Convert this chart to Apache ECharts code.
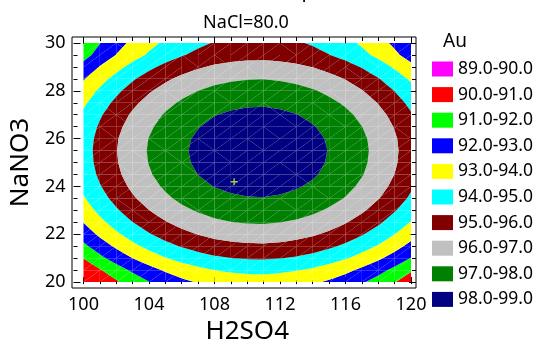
<!DOCTYPE html>
<html><head><meta charset="utf-8">
<script src="https://cdn.jsdelivr.net/npm/echarts@6/dist/echarts.min.js"></script>
<style>html,body{margin:0;padding:0;background:#fff}#c{width:539px;height:350px}</style>
</head><body><div id="c"></div>
<script>
// grid of the response surface (rows = NaNO3, columns = H2SO4)
const h2so4 = [100,101,102,103,104,105,106,107,108,109,110,111,112,113,114,115,116,117,118,119,120];
const nano3 = [20,20.5,21,21.5,22,22.5,23,23.5,24,24.5,25,25.5,26,26.5,27,27.5,28,28.5,29,29.5,30];
const au = [
[90.10,90.22,90.87,91.46,91.97,92.41,92.78,93.07,93.30,93.45,93.53,93.55,93.48,93.35,93.15,92.87,92.53,92.11,91.62,91.05,90.42],
[90.18,90.91,91.56,92.15,92.66,93.10,93.47,93.76,93.99,94.14,94.22,94.24,94.17,94.04,93.84,93.56,93.22,92.80,92.31,91.74,91.11],
[91.03,91.76,92.41,93.00,93.51,93.95,94.32,94.61,94.84,94.99,95.07,95.09,95.02,94.89,94.69,94.41,94.07,93.65,93.16,92.59,91.96],
[91.78,92.51,93.16,93.75,94.26,94.70,95.07,95.36,95.59,95.74,95.82,95.84,95.77,95.64,95.44,95.16,94.82,94.40,93.91,93.34,92.71],
[92.45,93.18,93.83,94.42,94.93,95.37,95.74,96.03,96.26,96.41,96.49,96.51,96.44,96.31,96.11,95.83,95.49,95.07,94.58,94.01,93.38],
[93.02,93.75,94.40,94.99,95.50,95.94,96.31,96.60,96.83,96.98,97.06,97.08,97.01,96.88,96.68,96.40,96.06,95.64,95.15,94.58,93.95],
[93.51,94.24,94.89,95.48,95.99,96.43,96.80,97.09,97.32,97.47,97.55,97.57,97.50,97.37,97.17,96.89,96.55,96.13,95.64,95.07,94.44],
[93.91,94.64,95.29,95.88,96.39,96.83,97.20,97.49,97.72,97.87,97.95,97.97,97.90,97.77,97.57,97.29,96.95,96.53,96.04,95.47,94.84],
[94.21,94.94,95.59,96.18,96.69,97.13,97.50,97.79,98.02,98.17,98.25,98.27,98.20,98.07,97.87,97.59,97.25,96.83,96.34,95.77,95.14],
[94.43,95.16,95.81,96.40,96.91,97.35,97.72,98.01,98.24,98.39,98.47,98.49,98.42,98.29,98.09,97.81,97.47,97.05,96.56,95.99,95.36],
[94.55,95.28,95.93,96.52,97.03,97.47,97.84,98.13,98.36,98.51,98.59,98.61,98.54,98.41,98.21,97.93,97.59,97.17,96.68,96.11,95.48],
[94.59,95.32,95.97,96.56,97.07,97.51,97.88,98.17,98.40,98.55,98.63,98.65,98.58,98.45,98.25,97.97,97.63,97.21,96.72,96.15,95.52],
[94.54,95.27,95.92,96.51,97.02,97.46,97.83,98.12,98.35,98.50,98.58,98.60,98.53,98.40,98.20,97.92,97.58,97.16,96.67,96.10,95.47],
[94.39,95.12,95.77,96.36,96.87,97.31,97.68,97.97,98.20,98.35,98.43,98.45,98.38,98.25,98.05,97.77,97.43,97.01,96.52,95.95,95.32],
[94.16,94.89,95.54,96.13,96.64,97.08,97.45,97.74,97.97,98.12,98.20,98.22,98.15,98.02,97.82,97.54,97.20,96.78,96.29,95.72,95.09],
[93.83,94.56,95.21,95.80,96.31,96.75,97.12,97.41,97.64,97.79,97.87,97.89,97.82,97.69,97.49,97.21,96.87,96.45,95.96,95.39,94.76],
[93.42,94.15,94.80,95.39,95.90,96.34,96.71,97.00,97.23,97.38,97.46,97.48,97.41,97.28,97.08,96.80,96.46,96.04,95.55,94.98,94.35],
[92.92,93.65,94.30,94.89,95.40,95.84,96.21,96.50,96.73,96.88,96.96,96.98,96.91,96.78,96.58,96.30,95.96,95.54,95.05,94.48,93.85],
[92.32,93.05,93.70,94.29,94.80,95.24,95.61,95.90,96.13,96.28,96.36,96.38,96.31,96.18,95.98,95.70,95.36,94.94,94.45,93.88,93.25],
[91.64,92.37,93.02,93.61,94.12,94.56,94.93,95.22,95.45,95.60,95.68,95.70,95.63,95.50,95.30,95.02,94.68,94.26,93.77,93.20,92.57],
[91.24,91.97,92.62,93.21,93.72,94.16,94.53,94.82,95.05,95.20,95.28,95.30,95.23,95.10,94.90,94.62,94.28,93.86,93.37,92.80,92.17]
];
const bandLow = [89,90,91,92,93,94,95,96,97,98];
const bandHigh = [90,91,92,93,94,95,96,97,98,99];
const bandLabels = ['89.0-90.0','90.0-91.0','91.0-92.0','92.0-93.0','93.0-94.0','94.0-95.0','95.0-96.0','96.0-97.0','97.0-98.0','98.0-99.0'];
const bandColors = ['#FF00FF','#FF0000','#00FF00','#0000FF','#FFFF00','#00FFFF','#800000','#C0C0C0','#008000','#000080'];
const optimum = [[109.2, 24.2]];
const subtitle = 'NaCl=80.0';
const mainTitle = 'Contours of Estimated Response Surface';

// triangulate the grid (diagonal chosen from the data)
const triangles = [];
const nx = h2so4.length, ny = nano3.length;
function node(i, j) { return {x: h2so4[i], y: nano3[j], v: au[j][i]}; }
for (let j = 0; j < ny - 1; j++) {
  for (let i = 0; i < nx - 1; i++) {
    const a = node(i, j), b = node(i + 1, j), c = node(i + 1, j + 1), d = node(i, j + 1);
    if (a.v + c.v >= b.v + d.v) { triangles.push([a, b, c]); triangles.push([a, c, d]); }
    else { triangles.push([a, b, d]); triangles.push([b, c, d]); }
  }
}
function clipPoly(poly, level, keepAbove) {
  const out = [];
  for (let k = 0; k < poly.length; k++) {
    const p = poly[k], q = poly[(k + 1) % poly.length];
    const pin = keepAbove ? p.v >= level : p.v <= level;
    const qin = keepAbove ? q.v >= level : q.v <= level;
    if (pin) out.push(p);
    if (pin !== qin) {
      const t = (level - p.v) / (q.v - p.v);
      out.push({x: p.x + t * (q.x - p.x), y: p.y + t * (q.y - p.y), v: level});
    }
  }
  return out;
}
function bandSeries(k) {
  return {
    type: 'custom', name: bandLabels[k], coordinateSystem: 'cartesian2d',
    itemStyle: {color: bandColors[k]}, silent: true, z: 2,
    data: [[h2so4[0], nano3[0]]],
    renderItem: function (params, api) {
      const children = [];
      for (const tri of triangles) {
        let poly = clipPoly(tri, bandLow[k], true);
        if (poly.length < 3) continue;
        poly = clipPoly(poly, bandHigh[k], false);
        if (poly.length < 3) continue;
        children.push({type: 'polygon', shape: {points: poly.map(p => api.coord([p.x, p.y]))},
          style: {fill: bandColors[k]}});
      }
      return {type: 'group', children: children};
    }
  };
}
const series = bandLow.map((_, k) => bandSeries(k));
series.push({
  type: 'scatter', name: 'opt', data: optimum, z: 5,
  symbol: 'path://M4,0H6V10H4ZM0,4H10V6H0Z', symbolSize: 7,
  itemStyle: {color: '#c8ff3c'}, silent: true
});

const FONT = 'Noto Sans';
const tickBase = {show: true, inside: true, length: 7, lineStyle: {color: '#000', width: 1}};
const minorBase = {show: true, length: 4, splitNumber: 4, lineStyle: {color: '#000', width: 1}};
const chart = echarts.init(document.getElementById('c'), null, {renderer: 'canvas'});
chart.setOption({
  animation: false,
  backgroundColor: '#fff',
  grid: {left: 82, right: 128, top: 43, bottom: 64},
  xAxis: [
    {type: 'value', position: 'bottom', min: 100, max: 120, interval: 4, offset: 2,
     axisLine: {show: false}, axisTick: tickBase, minorTick: minorBase, splitLine: {show: false},
     axisLabel: {fontSize: 18, fontFamily: FONT, color: '#000', margin: 12},
     name: 'H2SO4', nameLocation: 'middle', nameGap: 24,
     nameTextStyle: {fontSize: 26, fontFamily: FONT, color: '#000'}},
    {type: 'value', position: 'top', min: 100, max: 120, interval: 4, offset: 6,
     axisLine: {show: false}, axisTick: tickBase, minorTick: minorBase, splitLine: {show: false},
     axisLabel: {show: false}}
  ],
  yAxis: [
    {type: 'value', position: 'left', min: 20, max: 30, interval: 2, offset: 10,
     axisLine: {show: false}, axisTick: tickBase, minorTick: minorBase, splitLine: {show: false},
     axisLabel: {fontSize: 18, fontFamily: FONT, color: '#000', margin: 8},
     name: 'NaNO3', nameLocation: 'middle', nameGap: 33, nameRotate: 90,
     nameTextStyle: {fontSize: 26, fontFamily: FONT, color: '#000'}},
    {type: 'value', position: 'right', min: 20, max: 30, interval: 2, offset: 5,
     axisLine: {show: false}, axisTick: tickBase, minorTick: minorBase, splitLine: {show: false},
     axisLabel: {show: false}}
  ],
  legend: {
    orient: 'vertical', left: 432, top: 60, padding: 0,
    itemWidth: 21, itemHeight: 15, itemGap: 7.6, icon: 'rect',
    data: bandLabels, selectedMode: false,
    textStyle: {fontSize: 17.5, fontFamily: FONT, color: '#000', lineHeight: 16}
  },
  graphic: [
    {type: 'rect', shape: {x: 72, y: 37, width: 344, height: 251}, z: 100,
     style: {fill: null, stroke: '#000', lineWidth: 1}, silent: true},
    {type: 'text', x: 246, y: 23, z: 100,
     style: {text: subtitle, fontSize: 18, fontFamily: FONT, fill: '#000', align: 'center', verticalAlign: 'middle'}},
    {type: 'text', x: 244, y: -9, z: 100,
     style: {text: mainTitle, fontSize: 20, fontFamily: FONT, fill: '#000', align: 'center', verticalAlign: 'middle'}},
    {type: 'text', x: 443, y: 42, z: 100,
     style: {text: 'Au', fontSize: 19, fontFamily: FONT, fill: '#000', align: 'left', verticalAlign: 'middle'}}
  ],
  series: series
});
</script></body></html>
